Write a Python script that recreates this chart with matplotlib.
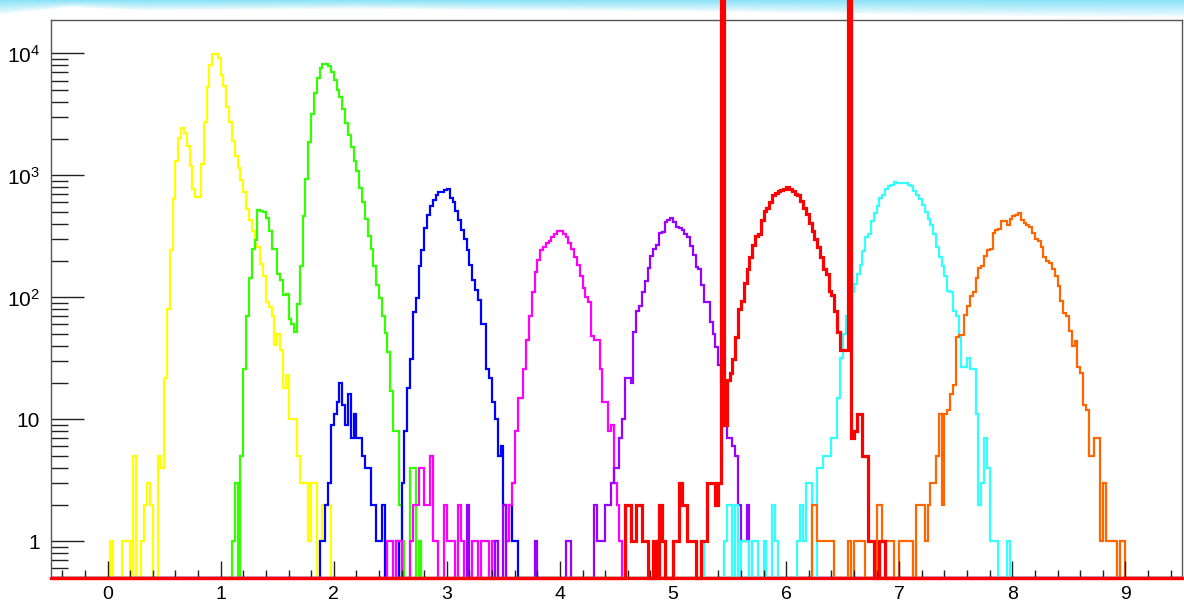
import numpy as np
import matplotlib.pyplot as plt
from matplotlib.ticker import FixedLocator, FixedFormatter, NullFormatter

# Histogram binning (0.025 wide bins from -0.5 to 9.5)
x_lo, x_hi, bin_w = -0.5, 9.5, 0.025
y_lo, y_hi = 0.5, 1.9e4

# Bin contents, each series starts at the given bin low edge
yellow_start = 0.0
yellow = [0, 1, 0, 0, 0, 1, 1, 1, 0, 5, 0, 0, 1, 2, 3, 2, 0, 0, 5, 4,
          22, 80, 245, 635, 1310, 2030, 2460, 2240, 1740, 1200,
          775, 665, 665, 1230, 2760, 5300, 8100, 9900, 9900, 9200,
          6700, 5400, 3650, 2750, 1900, 1450, 1150, 910, 735, 530,
          435, 350, 276, 260, 187, 150, 92, 83, 71, 41,
          50, 37, 18, 23, 10, 10, 10, 5, 3, 3,
          3, 1, 3, 3, 0, 1, 2, 2, 2]

green_start = 1.1
green = [1, 3, 0, 5, 26, 71, 145, 250, 295, 520,
         515, 505, 445, 350, 250, 250, 155, 140, 105, 107,
         66, 60, 52, 89, 180, 465, 935, 1870, 3170, 4700,
         6300, 7650, 8250, 8250, 7900, 7100, 6100, 5020, 4400, 3500,
         2700, 2150, 1700, 1320, 1090, 790, 610, 440, 316, 250,
         180, 127, 98, 71, 51, 36, 17, 8, 8, 2,
         1, 0, 0, 4, 4, 0, 1]

blue_start = 1.875
blue = [1, 1, 2, 3, 9, 11, 14, 20, 13, 9,
        16, 7, 11, 7, 7, 5, 4, 4, 2, 2,
        1, 1, 2, 0, 0, 0, 0, 1, 0, 3,
        8, 18, 31, 76, 98, 180, 247, 370, 470, 565,
        630, 690, 730, 730, 760, 770, 650, 600, 510, 435,
        360, 300, 247, 185, 140, 116, 96, 60, 60, 26,
        22, 14, 10, 5, 6, 2, 1, 2, 1, 1]

magenta_start = 2.475
magenta = [1, 1, 0, 1, 1, 0, 0, 0, 1, 2,
           2, 4, 4, 2, 2, 5, 1, 1, 0, 0,
           2, 1, 1, 1, 0, 2, 1, 0, 0, 0,
           1, 1, 0, 1, 1, 1, 0, 1, 0, 0,
           0, 0, 1, 2, 3, 8, 15, 15, 26, 45,
           70, 110, 160, 204, 247, 260, 277, 290, 315, 333,
           350, 350, 333, 315, 280, 250, 213, 185, 149, 120,
           100, 92, 48, 45, 45, 26, 14, 14, 8, 9,
           3, 2, 1, 0, 0, 0, 0, 0, 0, 0,
           0, 0, 0, 0, 0, 1]

purple_start = 3.175
purple = [2, 0, 0, 0, 0, 0, 0, 0, 0, 0,
          1, 0, 0, 2, 0, 0, 0, 0, 0, 0,
          0, 0, 0, 0, 1, 0, 0, 0, 0, 0,
          0, 0, 0, 0, 0, 1, 1, 0, 0, 0,
          0, 0, 0, 0, 0, 2, 1, 1, 1, 2,
          2, 3, 4, 4, 7, 10, 22, 22, 20, 52,
          77, 85, 110, 135, 173, 218, 250, 270, 340, 345,
          415, 430, 450, 415, 380, 370, 355, 330, 310, 262,
          224, 178, 170, 126, 92, 92, 63, 50, 39, 28,
          20, 15, 7, 7, 6, 5, 2, 1, 1, 2]

# two single bins of the red one are far off scale
red_start = 4.575
red = [2, 2, 1, 1, 2, 2, 1, 1, 0, 0,
       1, 0, 2, 1, 0, 0, 0, 1, 1, 3,
       2, 2, 1, 1, 1, 0, 0, 1, 1, 3,
       3, 3, 2, 3, 300000, 9, 21, 24, 31, 47,
       80, 93, 132, 170, 213, 270, 316, 330, 435, 510,
       540, 600, 695, 720, 740, 760, 780, 805, 780, 740,
       700, 690, 615, 540, 480, 410, 350, 300, 260, 213,
       170, 155, 112, 104, 77, 52, 37, 37, 37, 300000,
       7, 8, 11, 11, 5, 5, 1, 1, 0, 0,
       1, 1]

cyan_start = 5.25
cyan = [1, 0, 0, 0, 0, 0, 0, 0, 1, 2,
        2, 0, 2, 0, 1, 1, 1, 0, 1, 1,
        0, 0, 1, 0, 0, 2, 1, 0, 0, 0,
        0, 0, 0, 0, 1, 2, 1, 3, 3, 0,
        0, 4, 4, 5, 5, 5, 7, 7, 15, 32,
        50, 70, 90, 110, 128, 155, 185, 240, 310, 330,
        425, 490, 560, 650, 695, 770, 815, 830, 885, 860,
        870, 870, 870, 840, 815, 745, 695, 640, 570, 500,
        440, 395, 330, 260, 215, 180, 150, 112, 110, 77,
        70, 47, 27, 27, 32, 26, 26, 11, 2, 3,
        7, 4, 1, 1, 1, 0, 0, 0, 1]

orange_start = 6.225
orange = [2, 2, 1, 1, 1, 1, 1, 1, 0, 0,
          0, 0, 0, 1, 0, 1, 1, 1, 1, 0,
          0, 0, 0, 2, 2, 1, 1, 1, 1, 0,
          0, 1, 1, 1, 1, 1, 0, 2, 2, 2,
          1, 2, 3, 3, 5, 11, 2, 11, 12, 16,
          19, 47, 49, 49, 72, 85, 102, 110, 145, 173,
          180, 218, 245, 250, 340, 355, 365, 425, 425, 390,
          440, 465, 470, 490, 435, 410, 395, 380, 340, 300,
          290, 258, 213, 200, 190, 170, 150, 124, 93, 75,
          70, 53, 40, 44, 27, 24, 13, 12, 5, 5,
          7, 7, 1, 3, 1, 1, 1, 1, 0, 1, 1]

y_ticks = [1, 10, 100, 1000, 10000]
y_tick_labels = ['1', '10', r'$10^{2}$', r'$10^{3}$', r'$10^{4}$']
x_ticks = [0, 1, 2, 3, 4, 5, 6, 7, 8, 9]

edges = np.linspace(x_lo, x_hi, int(round((x_hi - x_lo) / bin_w)) + 1)


def full_hist(start, counts):
    h = np.zeros(len(edges) - 1)
    i0 = int(round((start - x_lo) / bin_w))
    h[i0:i0 + len(counts)] = counts
    # empty bins are drawn on the frame bottom like ROOT does
    return np.maximum(h, y_lo)


plt.rcParams['font.family'] = 'Liberation Sans'
plt.rcParams['mathtext.fontset'] = 'custom'
plt.rcParams['mathtext.rm'] = 'Liberation Sans'
plt.rcParams['mathtext.it'] = 'Liberation Sans:italic'

W, H = 1184, 608
fig = plt.figure(figsize=(W / 100, H / 100), dpi=100)
fig.patch.set_facecolor('white')

# light sky band on top of the canvas
band = fig.add_axes([0, 1 - 20 / H, 1, 20 / H], zorder=0)
rows = np.linspace(0, 1, 20)[:, None]
cols = np.linspace(0, 1, W)[None, :]
depth = np.interp(cols, [0, 0.06, 0.12, 0.3, 0.45, 0.6, 0.75, 0.9, 1.0],
                  [0.75, 0.35, 0.55, 0.45, 0.55, 0.6, 0.75, 0.85, 0.9])
a = np.clip(1 - rows / depth, 0, 1) ** 0.8
sky = np.array([0.56, 0.89, 0.97])
img = 1 - a[..., None] * (1 - sky)
band.imshow(img, aspect='auto', extent=[0, 1, 0, 1])
band.axis('off')

left, right, top, bottom = 51, 1182, 19.5, 578
ax = fig.add_axes([left / W, 1 - bottom / H, (right - left) / W, (bottom - top) / H], zorder=1)
ax.set_yscale('log')

series = [
    (yellow_start, yellow, '#ffff00'),
    (green_start, green, '#33ff00'),
    (blue_start, blue, '#0000ff'),
    (magenta_start, magenta, '#ff00ff'),
    (purple_start, purple, '#9900ff'),
    (cyan_start, cyan, '#33ffff'),
    (orange_start, orange, '#ff6600'),
]
for start, counts, col in series:
    ax.stairs(full_hist(start, counts), edges, baseline=None, color=col, lw=1.6)

# red one goes last, not clipped (its two big bins run off the top)
ax.stairs(full_hist(red_start, red), edges, baseline=None, color='#ff0000', lw=2.3,
          clip_on=False, zorder=3)
# red floor line along the whole bottom of the frame
ax.axhline(y_lo, color='#ff0000', lw=2.3, clip_on=False, zorder=3)

ax.set_xlim(x_lo, x_hi)
ax.set_ylim(y_lo, y_hi)

ax.yaxis.set_major_locator(FixedLocator(y_ticks))
ax.yaxis.set_major_formatter(FixedFormatter(y_tick_labels))
minors = [k * 10.0 ** n for n in range(-1, 5) for k in range(2, 10)]
minors = [m for m in minors if y_lo < m < y_hi]
ax.yaxis.set_minor_locator(FixedLocator(minors))
ax.yaxis.set_minor_formatter(NullFormatter())

ax.xaxis.set_major_locator(FixedLocator(x_ticks))
ax.xaxis.set_minor_locator(FixedLocator(np.arange(-0.4, 9.5, 0.2)))

ax.tick_params(axis='y', which='major', direction='in', length=24, width=1,
               pad=8, labelsize=15, color='#222222')
ax.tick_params(axis='y', which='minor', direction='in', length=12, width=1,
               color='#222222')
ax.tick_params(axis='x', which='major', direction='in', length=12, width=1,
               pad=6, labelsize=14, color='#222222')
ax.tick_params(axis='x', which='minor', direction='in', length=6, width=1,
               color='#222222')
ax.tick_params(top=False, right=False, which='both')

for s in ax.spines.values():
    s.set_color('#555555')
    s.set_linewidth(1)

plt.savefig('out.png', dpi=100)
